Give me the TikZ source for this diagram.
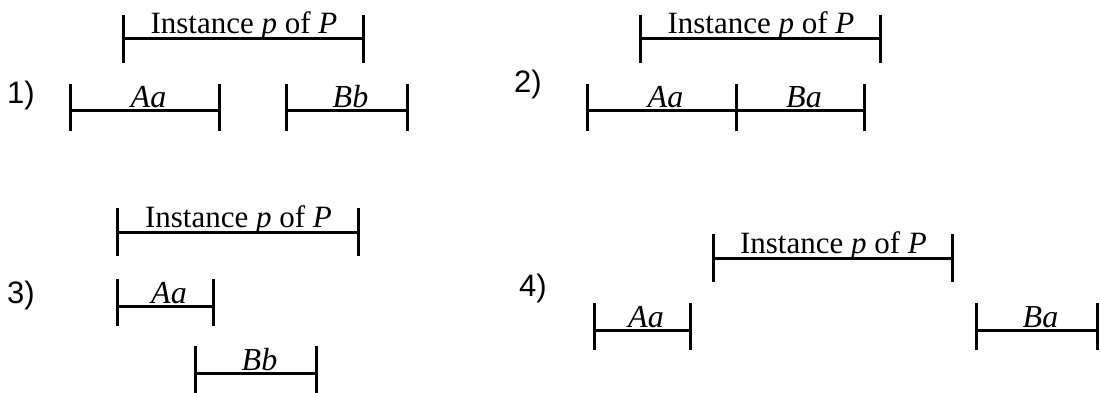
\documentclass[tikz,border=0pt]{standalone}
\usepackage{fontspec}
\usetikzlibrary{calc}
\setmainfont{Liberation Serif}
\newfontfamily\labelfont{Liberation Sans}
\begin{document}
\begin{tikzpicture}[x=1pt,y=-1pt,
  barline/.style={line width=3pt},
  itext/.style={anchor=base,inner sep=0pt,font=\fontsize{31}{36}\selectfont},
  etext/.style={anchor=base,inner sep=0pt,font=\fontsize{32}{36}\selectfont\itshape},
  numlabel/.style={inner sep=0pt,font=\labelfont\fontsize{31}{34}\selectfont}]
\useasboundingbox (0,0) rectangle (1100,393);
% instance bar: name, x1, x2, y
\newcommand\instbar[4]{%
  \coordinate (#1l) at (#2,#4);
  \coordinate (#1r) at (#3,#4);
  \draw[barline] (#1l) -- (#1r);
  \draw[barline] ([yshift=24pt]#1l) -- ([yshift=-24pt]#1l);
  \draw[barline] ([yshift=24pt]#1r) -- ([yshift=-24pt]#1r);
  \node[itext] (#1t) at ([xshift=1pt,yshift=5pt]$(#1l)!0.5!(#1r)$) {Instance \textit{p} of \textit{P}};
}
% event bar: name, x1, x2, y, label
\newcommand\evbar[5]{%
  \coordinate (#1l) at (#2,#4);
  \coordinate (#1r) at (#3,#4);
  \draw[barline] (#1l) -- (#1r);
  \draw[barline] ([yshift=27pt]#1l) -- ([yshift=-20pt]#1l);
  \draw[barline] ([yshift=27pt]#1r) -- ([yshift=-20pt]#1r);
  \node[etext] (#1t) at ([xshift=4pt,yshift=3pt]$(#1l)!0.5!(#1r)$) {#5};
}
% panel 1
\node[numlabel] (n1) at (21,95) {1)};
\instbar{ia}{123}{363}{39}
\evbar{aa}{70}{219}{111}{Aa}
\evbar{ab}{286}{407}{111}{Bb}
% panel 2
\node[numlabel] (n2) at (528,84) {2)};
\instbar{ib}{640}{880}{39}
\evbar{ba}{587}{736}{111}{Aa}
\evbar{bb}{736}{864}{111}{Ba}
% panel 3
\node[numlabel] (n3) at (21,295) {3)};
\instbar{ic}{117}{358}{232}
\evbar{ca}{117}{213}{306}{Aa}
\evbar{cb}{195}{316}{373}{Bb}
% panel 4
\node[numlabel] (n4) at (533,288) {4)};
\instbar{id}{713}{952}{258}
\evbar{da}{594}{690}{330}{Aa}
\evbar{db}{976}{1097}{330}{Ba}
\end{tikzpicture}
\end{document}
